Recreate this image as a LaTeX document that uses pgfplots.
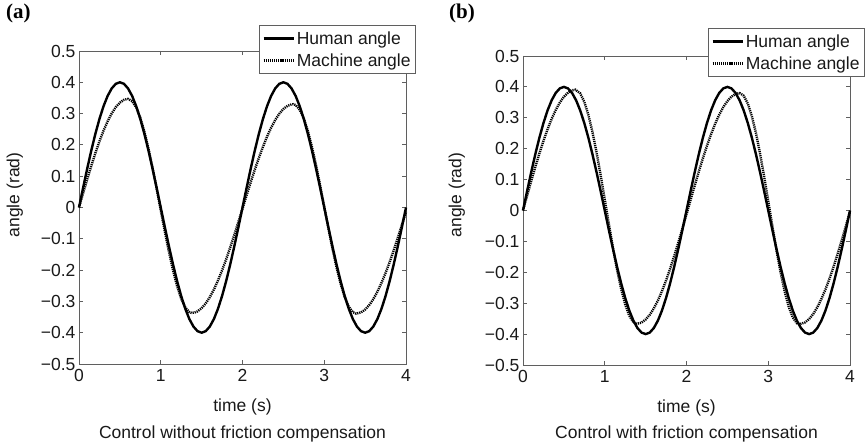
\documentclass[border=0pt]{standalone}
\usepackage{fontspec}
\setmainfont{Liberation Sans}
\newfontfamily\serifbold{Liberation Serif}
\usepackage{pgfplots}
\usepackage{pgfplotstable}
\pgfplotsset{compat=1.18}
\definecolor{axgray}{RGB}{95,95,95}
\definecolor{txt}{RGB}{25,25,25}

\pgfplotstableread{
t y
0.00 0
0.05 0.0626
0.10 0.1236
0.15 0.1816
0.20 0.2351
0.25 0.2828
0.30 0.3236
0.35 0.3564
0.40 0.3804
0.45 0.3951
0.50 0.4000
0.55 0.3951
0.60 0.3804
0.65 0.3564
0.70 0.3236
0.75 0.2828
0.80 0.2351
0.85 0.1816
0.90 0.1236
0.95 0.0626
1.00 0
1.05 -0.0626
1.10 -0.1236
1.15 -0.1816
1.20 -0.2351
1.25 -0.2828
1.30 -0.3236
1.35 -0.3564
1.40 -0.3804
1.45 -0.3951
1.50 -0.4000
1.55 -0.3951
1.60 -0.3804
1.65 -0.3564
1.70 -0.3236
1.75 -0.2828
1.80 -0.2351
1.85 -0.1816
1.90 -0.1236
1.95 -0.0626
2.00 0
2.05 0.0626
2.10 0.1236
2.15 0.1816
2.20 0.2351
2.25 0.2828
2.30 0.3236
2.35 0.3564
2.40 0.3804
2.45 0.3951
2.50 0.4000
2.55 0.3951
2.60 0.3804
2.65 0.3564
2.70 0.3236
2.75 0.2828
2.80 0.2351
2.85 0.1816
2.90 0.1236
2.95 0.0626
3.00 0
3.05 -0.0626
3.10 -0.1236
3.15 -0.1816
3.20 -0.2351
3.25 -0.2828
3.30 -0.3236
3.35 -0.3564
3.40 -0.3804
3.45 -0.3951
3.50 -0.4000
3.55 -0.3951
3.60 -0.3804
3.65 -0.3564
3.70 -0.3236
3.75 -0.2828
3.80 -0.2351
3.85 -0.1816
3.90 -0.1236
3.95 -0.0626
4.00 0
}\human

\pgfplotstableread{
t y
0.00 0
0.05 0.0453
0.10 0.0898
0.15 0.1328
0.20 0.1735
0.25 0.2113
0.30 0.2454
0.35 0.2753
0.40 0.3005
0.45 0.3206
0.50 0.3352
0.55 0.3440
0.60 0.3470
0.65 0.3401
0.70 0.3196
0.75 0.2864
0.80 0.2419
0.85 0.1878
0.90 0.1263
0.95 0.0599
1.00 -0.0088
1.05 -0.0769
1.10 -0.1416
1.15 -0.2004
1.20 -0.2510
1.25 -0.2912
1.30 -0.3194
1.35 -0.3345
1.38 -0.3370
1.42 -0.3350
1.45 -0.3318
1.50 -0.3217
1.55 -0.3065
1.60 -0.2865
1.65 -0.2619
1.70 -0.2333
1.75 -0.2009
1.80 -0.1654
1.85 -0.1272
1.90 -0.0871
1.95 -0.0456
2.00 -0.0035
2.05 0.0386
2.10 0.0801
2.15 0.1202
2.20 0.1584
2.25 0.1939
2.30 0.2263
2.35 0.2549
2.40 0.2795
2.45 0.2995
2.50 0.3147
2.55 0.3248
2.60 0.3296
2.62 0.3300
2.65 0.3275
2.70 0.3123
2.75 0.2840
2.80 0.2437
2.85 0.1932
2.90 0.1344
2.95 0.0699
3.00 0.0023
3.05 -0.0656
3.10 -0.1310
3.15 -0.1910
3.20 -0.2434
3.25 -0.2859
3.30 -0.3167
3.35 -0.3346
3.39 -0.3390
3.45 -0.3351
3.50 -0.3261
3.55 -0.3119
3.60 -0.2928
3.65 -0.2690
3.70 -0.2410
3.75 -0.2092
3.80 -0.1742
3.85 -0.1364
3.90 -0.0965
3.95 -0.0552
4.00 -0.0130
}\macha

\pgfplotstableread{
t y
0.00 0
0.05 0.0479
0.10 0.0950
0.15 0.1407
0.20 0.1843
0.25 0.2252
0.30 0.2626
0.35 0.2960
0.40 0.3251
0.45 0.3492
0.50 0.3681
0.55 0.3815
0.60 0.3891
0.64 0.3910
0.70 0.3791
0.75 0.3515
0.80 0.3090
0.85 0.2536
0.90 0.1876
0.95 0.1139
1.00 0.0358
1.05 -0.0434
1.10 -0.1201
1.15 -0.1911
1.20 -0.2532
1.25 -0.3037
1.30 -0.3404
1.35 -0.3617
1.39 -0.3670
1.45 -0.3628
1.50 -0.3530
1.55 -0.3377
1.60 -0.3170
1.65 -0.2912
1.70 -0.2608
1.75 -0.2264
1.80 -0.1883
1.85 -0.1471
1.90 -0.1036
1.95 -0.0584
2.00 -0.0121
2.05 0.0344
2.10 0.0805
2.15 0.1255
2.20 0.1686
2.25 0.2092
2.30 0.2466
2.35 0.2803
2.40 0.3098
2.45 0.3346
2.50 0.3542
2.55 0.3685
2.60 0.3771
2.65 0.3800
2.70 0.3714
2.75 0.3459
2.80 0.3047
2.85 0.2498
2.90 0.1836
2.95 0.1093
3.00 0.0301
3.05 -0.0501
3.10 -0.1278
3.15 -0.1993
3.20 -0.2612
3.25 -0.3110
3.30 -0.3461
3.35 -0.3649
3.38 -0.3680
3.45 -0.3623
3.50 -0.3514
3.55 -0.3349
3.60 -0.3131
3.65 -0.2864
3.70 -0.2551
3.75 -0.2197
3.80 -0.1810
3.85 -0.1393
3.90 -0.0953
3.95 -0.0497
4.00 -0.0033
}\machb

\pgfplotsset{
  myaxis/.style={
    scale only axis, width=327pt,
    xmin=0, xmax=4, ymin=-0.5, ymax=0.5,
    xtick={0,1,2,3,4}, xticklabels={0,1,2,3,4},
    ytick={-0.5,-0.4,-0.3,-0.2,-0.1,0,0.1,0.2,0.3,0.4,0.5},
    yticklabels={−0.5,−0.4,−0.3,−0.2,−0.1,0,0.1,0.2,0.3,0.4,0.5},
    tick align=inside, major tick length=4pt,
    axis line style={axgray, line width=0.8pt},
    every tick/.style={axgray, line width=0.8pt},
    tick label style={font=\fontsize{17.5}{20}\selectfont, text=txt},
    xticklabel style={yshift=-2pt},
    label style={font=\fontsize{17.5}{20}\selectfont, text=txt},
    clip=false,
    legend style={draw=axgray, fill=white, line width=0.8pt,
      font=\fontsize{17.5}{20}\selectfont, text=txt,
      inner xsep=3pt, inner ysep=4pt, row sep=4pt, anchor=north east},
    legend cell align=left,
    legend image code/.code={\draw[#1] (0pt,0pt) -- (30pt,0pt);},
  },
  hum/.style={black, line width=2.4pt},
  mac/.style={black, line width=2.4pt, dash pattern=on 1.2pt off 0.9pt},
}

\begin{document}
\begin{tikzpicture}
\path[use as bounding box] (0,0) rectangle (866pt,-446pt);
\begin{axis}[myaxis, height=313pt, at={(79pt,-364pt)}, anchor=south west,
  xlabel={time (s)}, ylabel={angle (rad)},
  xlabel style={at={(axis description cs:0.5,-0.137)}, anchor=center},
  ylabel style={at={(axis description cs:-0.196,0.54)}, anchor=center},
  legend style={at={(axis description cs:1.0306,1.083)}}]
\addplot[hum] table[x=t,y=y]{\human};
\addplot[mac] table[x=t,y=y]{\macha};
\legend{Human angle, Machine angle}
\node[font=\fontsize{17.5}{20}\selectfont, text=txt] at (axis description cs:0.5,-0.224) {Control without friction compensation};
\end{axis}
\begin{axis}[myaxis, height=309pt, at={(523pt,-365pt)}, anchor=south west,
  xlabel={time (s)}, ylabel={angle (rad)},
  xlabel style={at={(axis description cs:0.5,-0.139)}, anchor=center},
  ylabel style={at={(axis description cs:-0.202,0.55)}, anchor=center},
  legend style={at={(axis description cs:1.0459,1.0906)}}]
\addplot[hum] table[x=t,y=y]{\human};
\addplot[mac] table[x=t,y=y]{\machb};
\legend{Human angle, Machine angle}
\node[font=\fontsize{17.5}{20}\selectfont, text=txt] at (axis description cs:0.5,-0.223) {Control with friction compensation};
\end{axis}
\node[anchor=north west, inner sep=0pt, font=\serifbold\bfseries\fontsize{21}{24}\selectfont] at (6pt,-4pt) {(a)};
\node[anchor=north west, inner sep=0pt, font=\serifbold\bfseries\fontsize{21}{24}\selectfont] at (449pt,-4pt) {(b)};
\end{tikzpicture}
\end{document}
